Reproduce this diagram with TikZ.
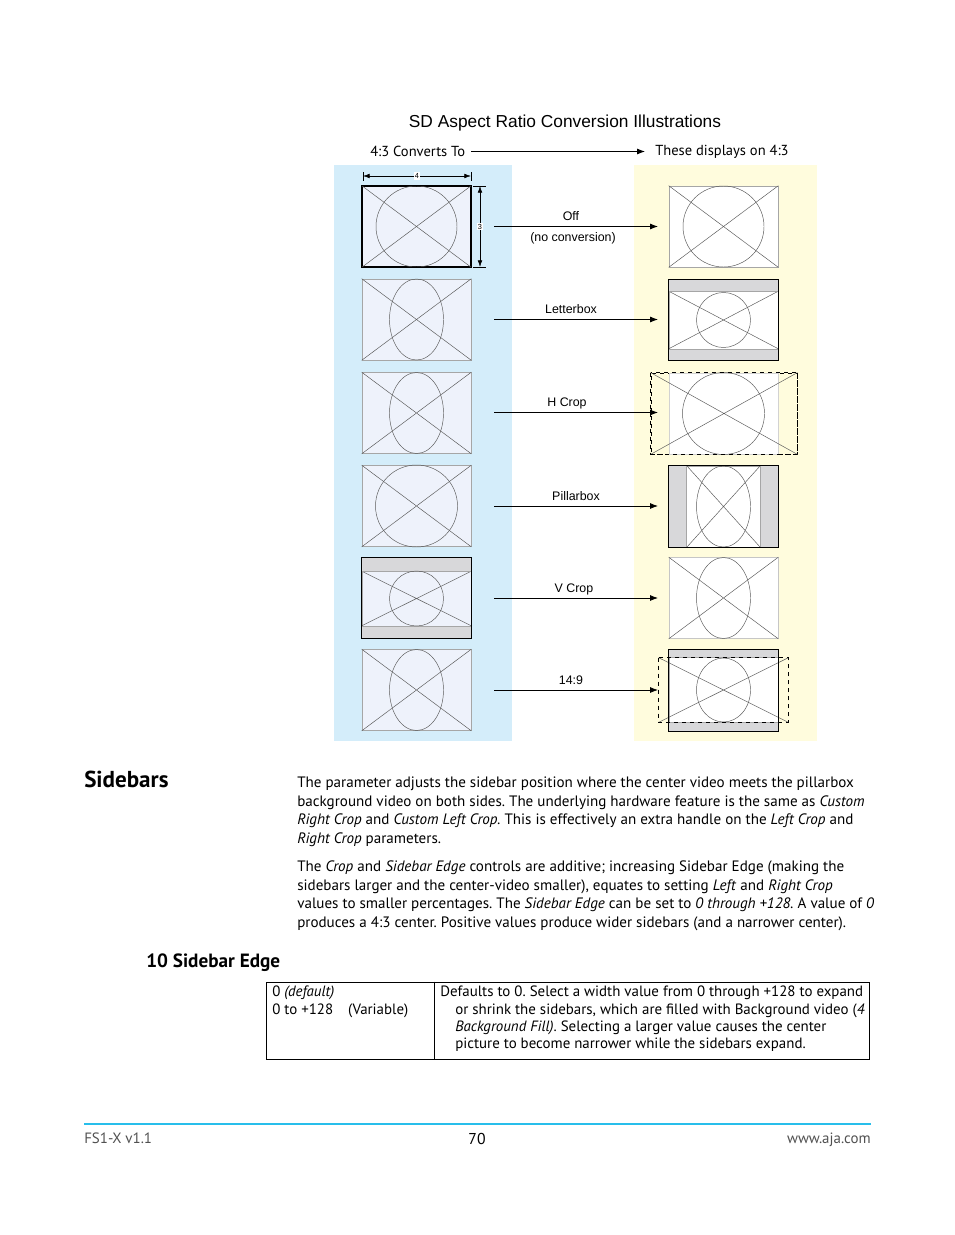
\documentclass[tikz,border=0pt]{standalone}
\usepackage{fontspec}
\setmainfont{PT Sans}
\newfontfamily\helv{Liberation Sans}
\usetikzlibrary{arrows.meta,calc,positioning}
\frenchspacing

\definecolor{panelblue}{RGB}{212,237,250}
\definecolor{panelyellow}{RGB}{255,252,221}
\definecolor{framefill}{RGB}{238,242,251}
\definecolor{barfill}{RGB}{216,216,218}
\definecolor{rulecyan}{RGB}{40,190,235}
\definecolor{footgray}{RGB}{80,80,80}

\begin{document}
\begin{tikzpicture}[x=0.75pt,y=-0.75pt,
    every node/.style={inner sep=0pt},
    frm/.style={draw=gray!70, line width=0.5pt, minimum width=81.75pt, minimum height=60.75pt},
    sketch/.style={draw=black!65, line width=0.35pt},
    conv/.style={-{Latex[length=6pt,width=4.5pt]}, line width=0.6pt},
    dim/.style={{Latex[length=5pt,width=3.5pt]}-{Latex[length=5pt,width=3.5pt]}, line width=0.5pt},
    lbl/.style={font=\helv\fontsize{9.3}{11}\selectfont},
    body/.style={align=left, anchor=north west, font=\fontsize{11.3}{14}\selectfont}]
    \useasboundingbox (0,0) rectangle (954,1235);

    % panels
    \fill[panelblue] (334,165) rectangle (512,741);
    \fill[panelyellow] (634,165) rectangle (817,741);

    % headings of the illustration
    \node[font=\helv\fontsize{13}{15}\selectfont] (title) at (565,123.5) {SD Aspect Ratio Conversion Illustrations};
    \node[anchor=west, font=\fontsize{10.9}{13}\selectfont] (srcH) at (370,151.5) {4:3 Converts To};
    \node[anchor=west, font=\fontsize{10.9}{13}\selectfont] (dstH) at (655,152.3) {These displays on 4:3};
    \draw[conv, shorten <=4.5pt, shorten >=7.5pt] (srcH.east) -- (srcH.east -| dstH.west);

    % --- left column: source 4:3 pictures ---
    \node[frm, fill=framefill, draw=black, line width=0.9pt] (L1) at (416.5,226.5) {};
    \draw[sketch] (L1.north west) -- (L1.south east) (L1.south west) -- (L1.north east);
    \draw[sketch] (L1.center) circle [radius=40.5];
    \draw[black, line width=0.9pt] (L1.north west) rectangle (L1.south east);

    \node[frm, fill=framefill] (L2) at (416.5,319.5) {};
    \draw[sketch] (L2.north west) -- (L2.south east) (L2.south west) -- (L2.north east);
    \draw[sketch] (L2.center) ellipse [x radius=27, y radius=40.5];

    \node[frm, fill=framefill] (L3) at (416.5,413) {};
    \draw[sketch] (L3.north west) -- (L3.south east) (L3.south west) -- (L3.north east);
    \draw[sketch] (L3.center) ellipse [x radius=27, y radius=40.5];

    \node[frm, fill=framefill] (L4) at (416.5,506) {};
    \draw[sketch] (L4.north west) -- (L4.south east) (L4.south west) -- (L4.north east);
    \draw[sketch] (L4.center) circle [radius=41];

    \node[frm, fill=framefill] (L5) at (416.5,598) {};
    \fill[barfill] (L5.north west) rectangle ($(L5.north east)+(0,14)$);
    \fill[barfill] (L5.south west) rectangle ($(L5.south east)+(0,-13)$);
    \draw[sketch] ($(L5.north west)+(0,14)$) -- ($(L5.south east)+(0,-13)$)
                  ($(L5.south west)+(0,-13)$) -- ($(L5.north east)+(0,14)$);
    \draw[gray!70] ($(L5.north west)+(0,14)$) -- ($(L5.north east)+(0,14)$)
                   ($(L5.south west)+(0,-13)$) -- ($(L5.south east)+(0,-13)$);
    \draw[sketch] ($(L5.center)+(0,0.5)$) ellipse [x radius=27, y radius=27.5];
    \draw[black, line width=0.9pt] (L5.north west) rectangle (L5.south east);

    \node[frm, fill=framefill] (L6) at (416.5,690) {};
    \draw[sketch] (L6.north west) -- (L6.south east) (L6.south west) -- (L6.north east);
    \draw[sketch] (L6.center) ellipse [x radius=27, y radius=40.5];

    % dimensions on the first picture
    \draw[line width=0.5pt] (363,172) -- (363,181) (471,172) -- (471,181);
    \coordinate (wA) at (363,176);
    \coordinate (wB) at (471,176);
    \draw[dim] (wA) -- (wB) node[midway, fill=white, inner sep=1pt, font=\helv\fontsize{5.5}{6}\selectfont] (wlbl) {4};
    \draw[line width=0.5pt] (473,186) -- (486,186) (473,267) -- (486,267);
    \coordinate (hA) at (480,186);
    \coordinate (hB) at (480,267);
    \draw[dim] (hA) -- (hB) node[midway, fill=white, inner sep=1pt, font=\helv\fontsize{5.5}{6}\selectfont] (hlbl) {3};

    % --- right column: what is displayed on 4:3 ---
    \node[frm, fill=white] (R1) at (723.5,226.5) {};
    \draw[sketch] (R1.north west) -- (R1.south east) (R1.south west) -- (R1.north east);
    \draw[sketch] (R1.center) circle [radius=40.5];

    \node[frm, fill=white] (R2) at (723.5,320) {};
    \fill[barfill] (R2.north west) rectangle ($(R2.north east)+(0,12)$);
    \fill[barfill] (R2.south west) rectangle ($(R2.south east)+(0,-12)$);
    \draw[sketch] ($(R2.north west)+(0,12)$) -- ($(R2.south east)+(0,-12)$)
                  ($(R2.south west)+(0,-12)$) -- ($(R2.north east)+(0,12)$);
    \draw[gray!70] ($(R2.north west)+(0,12)$) -- ($(R2.north east)+(0,12)$)
                   ($(R2.south west)+(0,-12)$) -- ($(R2.south east)+(0,-12)$);
    \draw[sketch] (R2.center) ellipse [x radius=27, y radius=27.5];
    \draw[black, line width=0.9pt] (R2.north west) rectangle (R2.south east);

    \node[draw=black, dashed, line width=0.6pt, minimum width=109.5pt, minimum height=60.75pt] (R3c) at (724,413.5) {};
    \node[frm, fill=white, draw=gray!35] (R3) at (723.5,413.5) {};
    \draw[sketch] (R3c.north west) -- (R3c.south east) (R3c.south west) -- (R3c.north east);
    \draw[sketch] (R3.center) circle [radius=41];
    \draw[black, dashed, line width=0.6pt] (R3c.north west) rectangle (R3c.south east);

    \node[frm, fill=white] (R4) at (723.5,506.5) {};
    \fill[barfill] (R4.north west) rectangle ($(R4.south west)+(18,0)$);
    \fill[barfill] (R4.north east) rectangle ($(R4.south east)+(-18,0)$);
    \draw[sketch] ($(R4.north west)+(18,0)$) -- ($(R4.south east)+(-18,0)$)
                  ($(R4.south west)+(18,0)$) -- ($(R4.north east)+(-18,0)$);
    \draw[gray!70] ($(R4.north west)+(18,0)$) -- ($(R4.south west)+(18,0)$)
                   ($(R4.north east)+(-18,0)$) -- ($(R4.south east)+(-18,0)$);
    \draw[sketch] (R4.center) ellipse [x radius=27, y radius=40.5];
    \draw[black, line width=0.9pt] (R4.north west) rectangle (R4.south east);

    \node[frm, fill=white, draw=gray!45] (R5) at (723.5,598) {};
    \draw[sketch] (R5.north west) -- (R5.south east) (R5.south west) -- (R5.north east);
    \draw[sketch] (R5.center) ellipse [x radius=27, y radius=40.5];

    \node[frm, fill=white] (R6) at (723.5,690.5) {};
    \fill[barfill] (R6.north west) rectangle ($(R6.north east)+(0,8)$);
    \fill[barfill] (R6.south west) rectangle ($(R6.south east)+(0,-9)$);
    \node[minimum width=96.75pt, minimum height=48pt] (R6c) at (723.5,690) {};
    \draw[sketch] (R6c.north west) -- (R6c.south east) (R6c.south west) -- (R6c.north east);
    \draw[gray!70] ($(R6.north west)+(0,8)$) -- ($(R6.north east)+(0,8)$)
                   ($(R6.south west)+(0,-9)$) -- ($(R6.south east)+(0,-9)$);
    \draw[sketch] (R6c.center) ellipse [x radius=27, y radius=32];
    \draw[black, line width=0.9pt] (R6.north west) rectangle (R6.south east);
    \draw[black, dashed, line width=0.6pt] (R6c.north west) rectangle (R6c.south east);

    % conversion arrows
    \foreach \n/\y/\lx/\t in {1/226.5/571/Off, 2/319.5/571/Letterbox, 3/412.5/567/H Crop,
                              4/506/576/Pillarbox, 5/598/574/V Crop, 6/690/571/14:9} {
        \coordinate (a\n) at (494,\y);
        \coordinate (b\n) at (658,\y);
        \draw[conv] (a\n) -- (b\n);
        \node[lbl, anchor=base] (t\n) at (\lx,\y-6) {\t};
    }
    \node[lbl, anchor=base] (t1b) at (573,241) {(no conversion)};

    % --- text of the page ---
    \node[anchor=base west, font=\bfseries\fontsize{17.3}{20}\selectfont] (secH) at (84,787.5) {Sidebars};
    \node[body] (par1) at (297,776.5) {The parameter adjusts the sidebar position where the center video meets the pillarbox\\
        background video on both sides. The underlying hardware feature is the same as \textit{Custom}\\
        \textit{Right Crop} and \textit{Custom Left Crop.} This is effectively an extra handle on the \textit{Left Crop} and\\
        \textit{Right Crop} parameters.};
    \node[body] (par2) at (297,860.5) {The \textit{Crop} and \textit{Sidebar Edge} controls are additive; increasing Sidebar Edge (making the\\
        sidebars larger and the center-video smaller), equates to setting \textit{Left} and \textit{Right Crop}\\
        values to smaller percentages. The \textit{Sidebar Edge} can be set to \textit{0 through +128.} A value of \textit{0}\\
        produces a 4:3 center. Positive values produce wider sidebars (and a narrower center).};
    \node[anchor=base west, font=\bfseries\fontsize{14.4}{17}\selectfont] (subH) at (146,967.5) {10 Sidebar Edge};

    % parameter table
    \node[draw, line width=0.7pt, minimum width=452.25pt, minimum height=57.75pt] (tbl) at (567.5,1020.5) {};
    \draw[line width=0.7pt] (tbl.north west -| 434,0) -- (tbl.south west -| 434,0);
    \node[body, font=\fontsize{11.2}{13}\selectfont] (tval) at (272,986) {0 \textit{(default)}\\0 to +128\quad(Variable)};
    \node[body, font=\fontsize{11.2}{13}\selectfont] (tdesc) at (440,986) {Defaults to 0. Select a width value from 0 through +128 to expand\\
        \hspace*{11.25pt}or shrink the sidebars, which are filled with Background video (\textit{4}\\
        \hspace*{11.25pt}\textit{Background Fill)}. Selecting a larger value causes the center\\
        \hspace*{11.25pt}picture to become narrower while the sidebars expand.};

    % footer
    \coordinate (rA) at (84,1124);
    \coordinate (rB) at (871,1124);
    \draw[rulecyan, line width=0.8pt] (rA) -- (rB);
    \node[anchor=base west, text=footgray, font=\fontsize{11.2}{13}\selectfont] (ftL) at (84,1143) {FS1-X v1.1};
    \node[anchor=base, font=\fontsize{11.8}{14}\selectfont] (ftC) at (477,1144) {70};
    \node[anchor=base east, text=footgray, font=\fontsize{11.2}{13}\selectfont] (ftR) at (871,1143) {www.aja.com};
\end{tikzpicture}
\end{document}
